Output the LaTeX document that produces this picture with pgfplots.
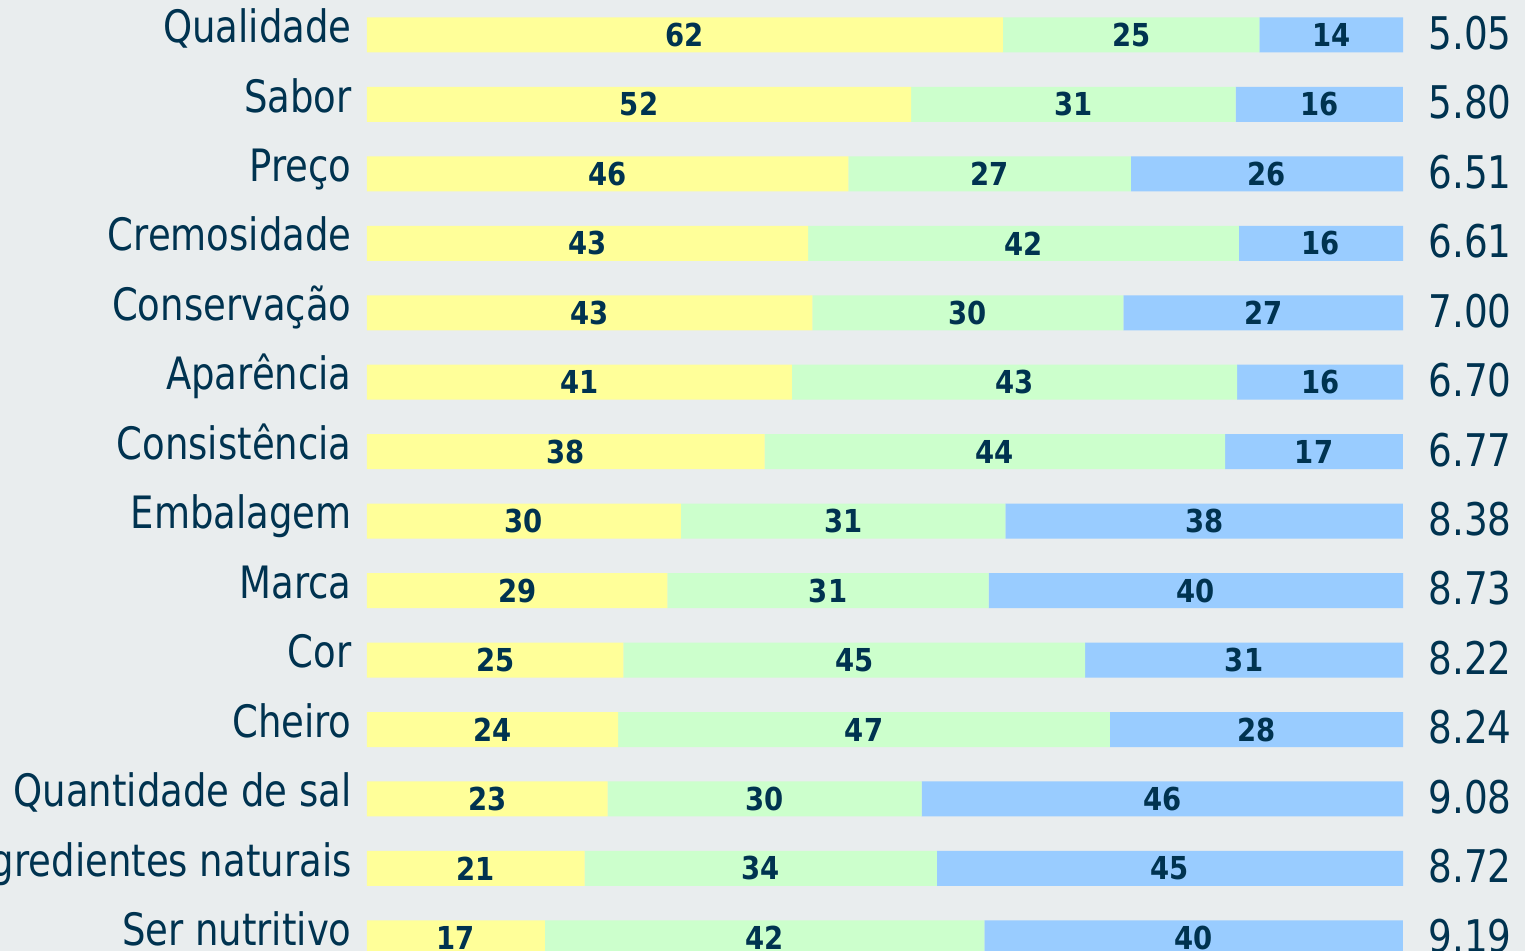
\documentclass[border=0pt]{standalone}
\usepackage{pgfplots}
\pgfplotsset{compat=1.18}
\usepackage{pgfplotstable}
\usepackage{fontspec}
\setmainfont{DejaVu Sans}[FakeStretch=0.83]
\newfontfamily\numfont{DejaVu Sans}[FakeStretch=0.87]

\definecolor{bg}{RGB}{233,237,238}
\definecolor{ink}{HTML}{003350}
\definecolor{yel}{HTML}{FFFF99}
\definecolor{grn}{HTML}{CCFFCC}
\definecolor{blu}{HTML}{99CCFF}

% shares per item (yellow, green, blue), as printed
\pgfplotstableread{
idx a b c
0 62 25 14
1 52 31 16
2 46 27 26
3 43 42 16
4 43 30 27
5 41 43 16
6 38 44 17
7 30 31 38
8 29 31 40
9 25 45 31
10 24 47 28
11 23 30 46
12 21 34 45
13 17 42 40
}\data
% bars are drawn to a common length of 100
\pgfplotstablecreatecol[expr={100*\thisrow{a}/(\thisrow{a}+\thisrow{b}+\thisrow{c})}]{an}\data
\pgfplotstablecreatecol[expr={100*\thisrow{b}/(\thisrow{a}+\thisrow{b}+\thisrow{c})}]{bn}\data
\pgfplotstablecreatecol[expr={100*\thisrow{c}/(\thisrow{a}+\thisrow{b}+\thisrow{c})}]{cn}\data
\pgfplotstablecreatecol[expr={\thisrow{an}/2}]{ma}\data
\pgfplotstablecreatecol[expr={\thisrow{an}+\thisrow{bn}/2}]{mb}\data
\pgfplotstablecreatecol[expr={\thisrow{an}+\thisrow{bn}+\thisrow{cn}/2}]{mc}\data

\begin{document}
\begin{tikzpicture}
\path[use as bounding box, fill=bg] (0,0) rectangle (762.5pt,475.5pt);
\pgfplotsset{
  base/.style={
    at={(183.5pt,475.4pt)}, anchor=north west,
    scale only axis, width=518pt, height=486.2pt,
    xmin=0, xmax=100, ymin=-0.5, ymax=13.5, y dir=reverse,
    axis line style={draw=none}, xtick=\empty,
    ytick={0,...,13}, major tick length=0pt,
    clip=false,
  }
}
\begin{axis}[base,
  xbar stacked, bar width=17.5pt,
  yticklabels={Qualidade,Sabor,Preço,Cremosidade,Conservação,Aparência,Consistência,Embalagem,Marca,Cor,Cheiro,Quantidade de sal,Ingredientes naturais,Ser nutritivo},
  yticklabel style={anchor=base east, inner sep=0pt, xshift=-7.5pt, yshift=-3.85pt,
    font=\fontsize{22.3}{26}\selectfont, text=ink},
]
\addplot[fill=yel, draw=none] table[x=an, y=idx]{\data};
\addplot[fill=grn, draw=none] table[x=bn, y=idx]{\data};
\addplot[fill=blu, draw=none] table[x=cn, y=idx]{\data};
\end{axis}
\begin{axis}[base,
  /pgf/number format/assume math mode=true,
  yticklabel pos=right,
  yticklabels={5.05,5.80,6.51,6.61,7.00,6.70,6.77,8.38,8.73,8.22,8.24,9.08,8.72,9.19},
  yticklabel style={anchor=west, inner sep=0pt, xshift=12.5pt, yshift=1pt,
    font=\fontsize{22.5}{27}\selectfont, text=ink},
  nodes near coords, point meta=explicit,
  nodes near coords style={anchor=center, inner sep=0pt, text=ink,
    font=\numfont\bfseries\fontsize{15.8}{19}\selectfont},
]
\addplot[draw=none, mark=none] table[x=ma, y=idx, meta=a]{\data};
\addplot[draw=none, mark=none] table[x=mb, y=idx, meta=b]{\data};
\addplot[draw=none, mark=none] table[x=mc, y=idx, meta=c]{\data};
\end{axis}
\end{tikzpicture}
\end{document}
